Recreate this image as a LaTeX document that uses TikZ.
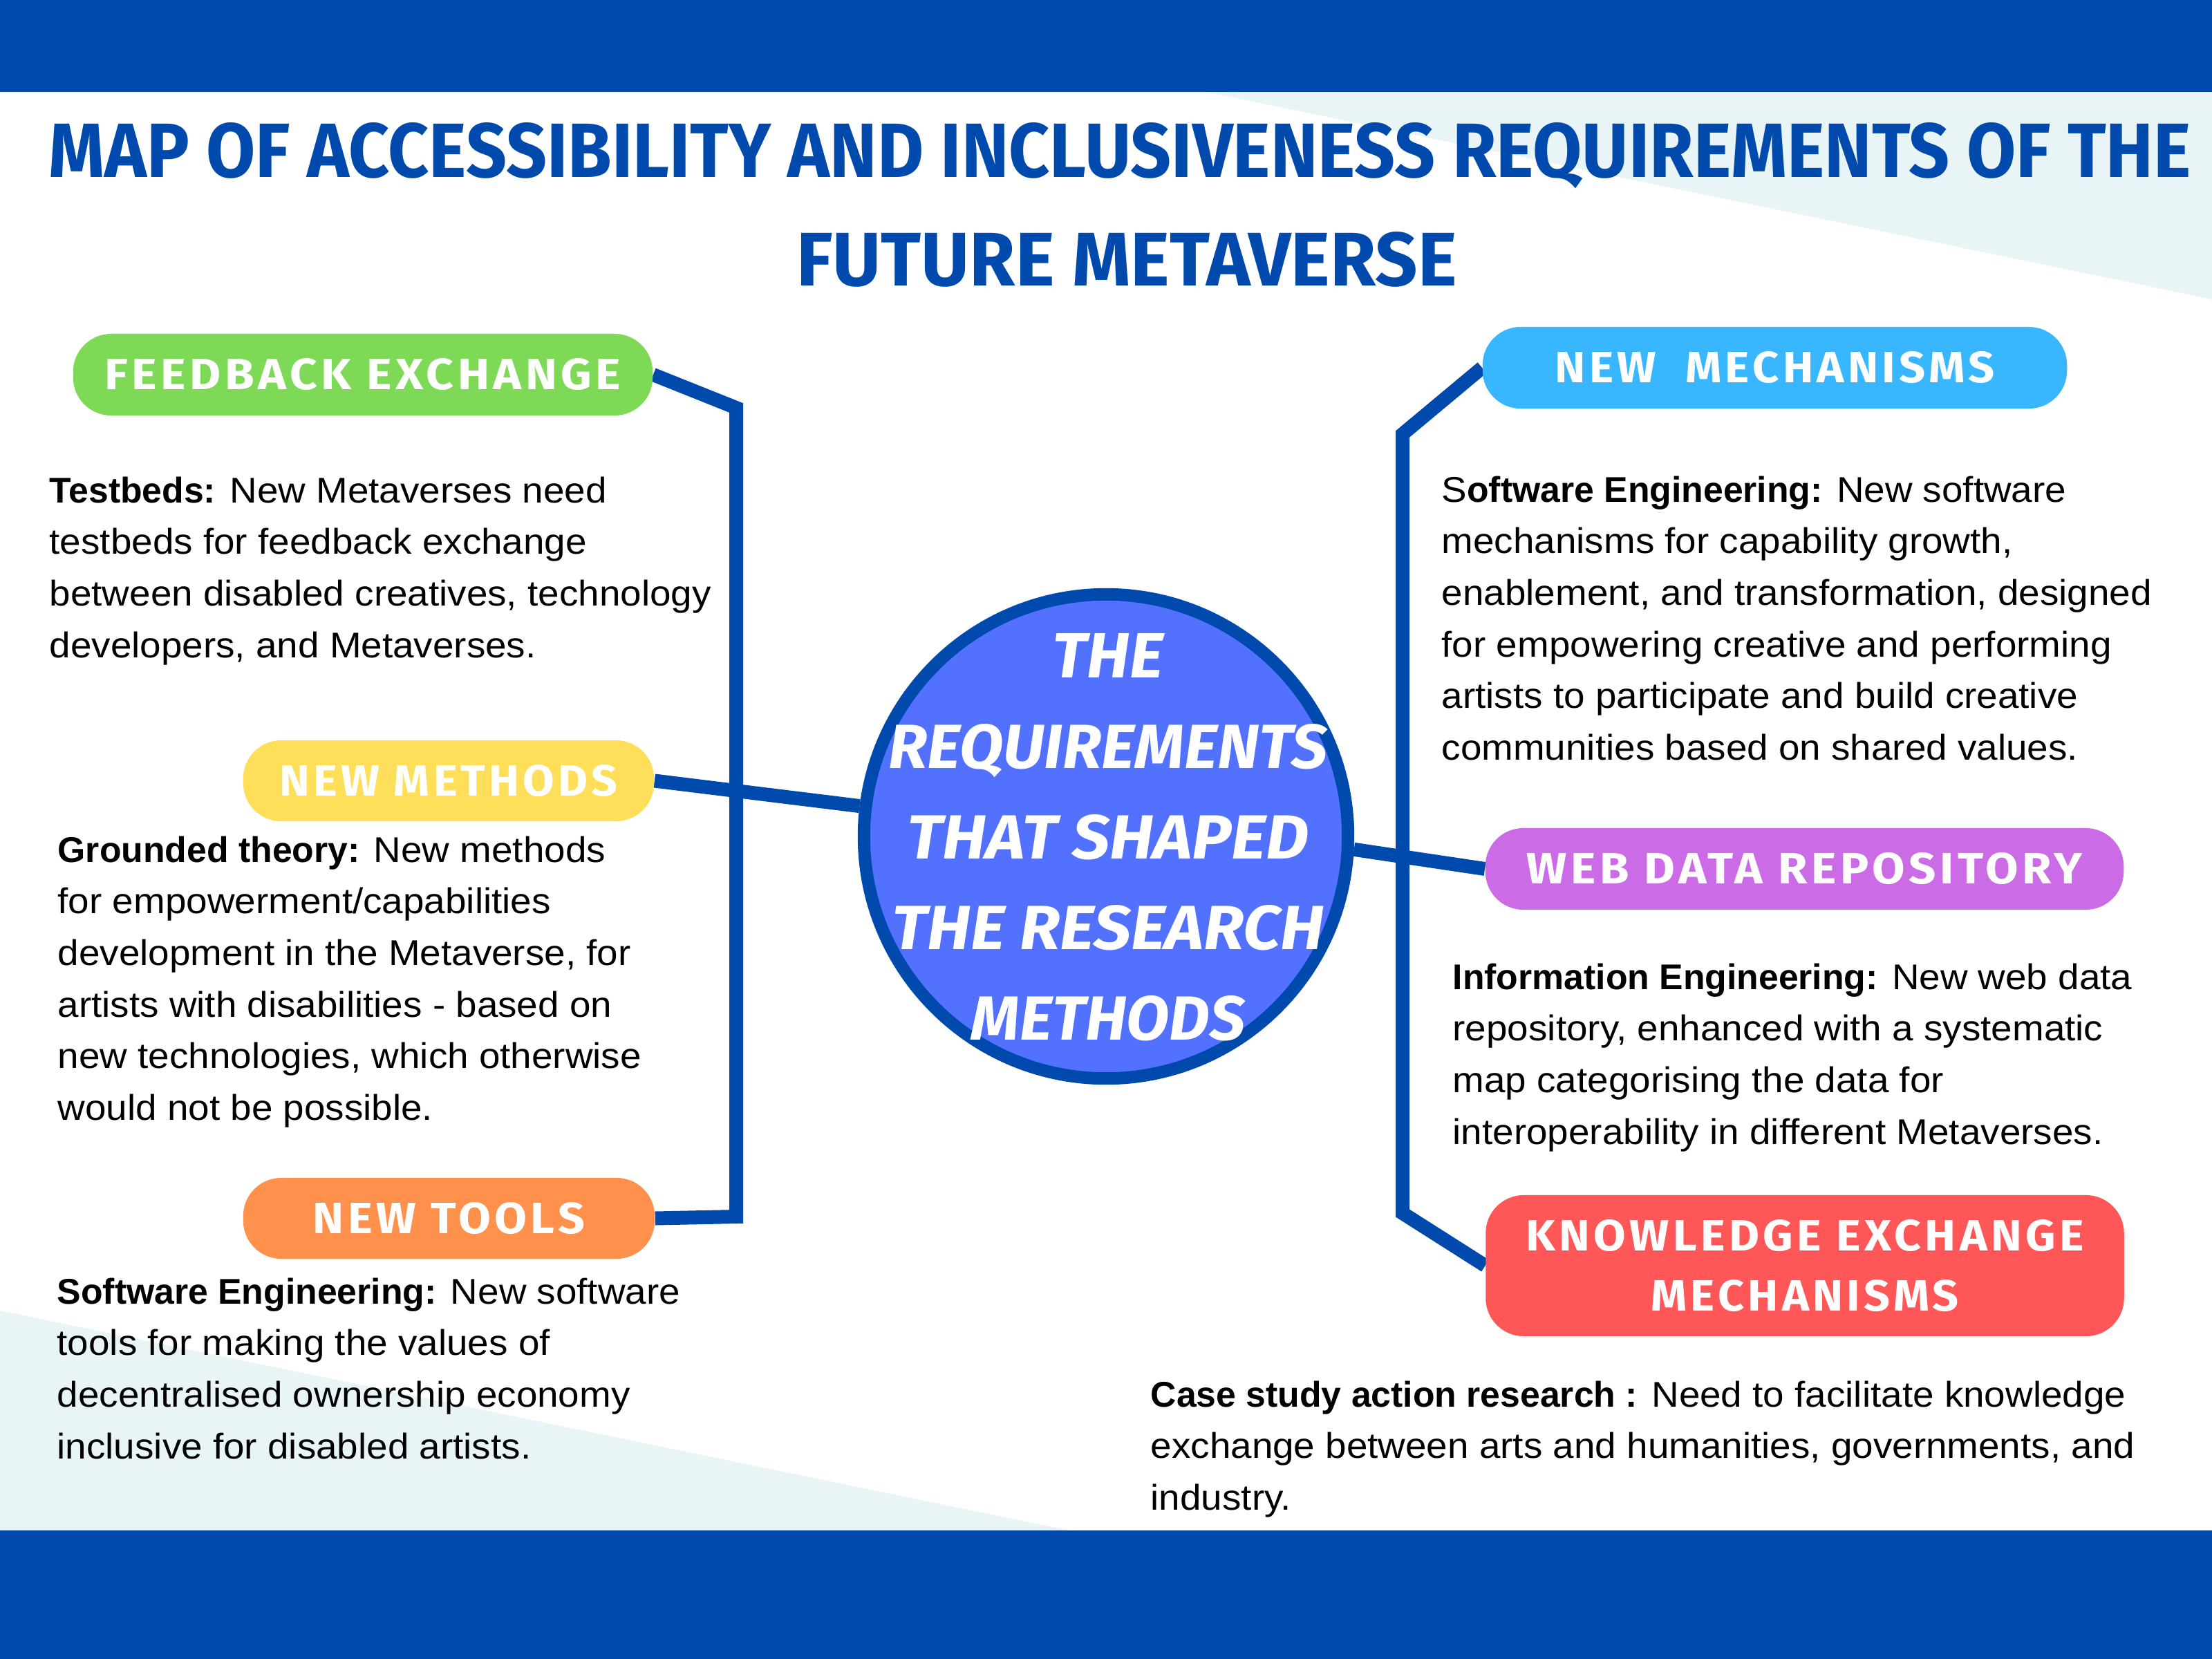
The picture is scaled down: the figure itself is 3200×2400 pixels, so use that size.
\documentclass[tikz,border=0pt]{standalone}
\usepackage{fontspec}
\usepackage{graphicx}
\setmainfont{Liberation Sans}
\newfontfamily\bodyfont[UprightFeatures={FakeStretch=1.06}]{Liberation Sans}
\newfontfamily\pillfont[LetterSpace=8]{Fira Sans}
\newfontfamily\titlefont{Fira Sans}
\newfontfamily\circfont{Fira Sans}
\definecolor{mainblue}{HTML}{004AAD}
\definecolor{lightbg}{HTML}{E8F4F6}
\definecolor{pgreen}{HTML}{7ED957}
\definecolor{pyellow}{HTML}{FFDE59}
\definecolor{porange}{HTML}{FF914D}
\definecolor{pcyan}{HTML}{38B6FF}
\definecolor{ppurple}{HTML}{CB6CE6}
\definecolor{pred}{HTML}{FF5757}
\definecolor{circfill}{HTML}{5271FF}
\pgfdeclarelayer{bg}
\pgfsetlayers{bg,main}
\newcommand{\bodytext}[1]{\parbox[t]{16cm}{\bodyfont\fontsize{14.71pt}{0.747cm}\selectfont\raggedright #1}}
\newcommand{\pl}[2]{\resizebox{#1}{0.45cm}{\pillfont\bfseries #2}}
\newcommand{\cl}[2]{\resizebox{#1}{0.64cm}{\circfont\bfseries\itshape #2}}
\tikzset{
  pill/.style={rounded corners=0.55cm, inner sep=0pt, text=white},
  conn/.style={draw=mainblue, line width=0.2cm},
  body/.style={anchor=base west, inner sep=0pt, text=black},
  titletext/.style={anchor=base, inner sep=0pt, text=mainblue},
}
\begin{document}
\begin{tikzpicture}[x=0.01cm,y=-0.01cm]
\useasboundingbox (0,0) rectangle (3200,2400);
\begin{pgfonlayer}{bg}
\fill[white] (0,0) rectangle (3200,2400);
\fill[lightbg] (1745,133) -- (3200,133) -- (3200,433) -- cycle;
\fill[lightbg] (0,1896) -- (1551,2215) -- (0,2215) -- cycle;
\fill[mainblue] (0,0) rectangle (3200,133);
\fill[mainblue] (0,2214) rectangle (3200,2400);
\end{pgfonlayer}

% title
\node[titletext] (t1) at (1620,257) {\resizebox{30.98cm}{0.79cm}{\titlefont\bfseries MAP OF ACCESSIBILITY AND INCLUSIVENESS REQUIREMENTS OF THE}};
\node[titletext] (t2) at (1630,413) {\resizebox{9.55cm}{0.78cm}{\titlefont\bfseries FUTURE METAVERSE}};

% pills
\node[pill, fill=pgreen, minimum width=8.38cm, minimum height=1.18cm] (fb) at (525,542) {\pl{7.46cm}{FEEDBACK EXCHANGE}};
\node[pill, fill=pyellow, minimum width=5.94cm, minimum height=1.17cm] (nm) at (649,1129.5) {\pl{4.89cm}{NEW METHODS}};
\node[pill, fill=porange, minimum width=5.95cm, minimum height=1.17cm] (nt) at (649.5,1762.5) {\pl{3.93cm}{NEW TOOLS}};
\node[pill, fill=pcyan, minimum width=8.45cm, minimum height=1.18cm] (nmc) at (2567.5,532) {\pl{6.35cm}{NEW~~MECHANISMS}};
\node[pill, fill=ppurple, minimum width=9.23cm, minimum height=1.18cm] (wd) at (2610.5,1257) {\pl{8.03cm}{WEB DATA REPOSITORY}};
\node[pill, fill=pred, minimum width=9.23cm, minimum height=2.04cm, align=center, font={\fontsize{10pt}{0.87cm}\selectfont}] (ke) at (2611,1831) {\pl{8.07cm}{KNOWLEDGE EXCHANGE}\\\pl{4.45cm}{MECHANISMS}};

% central circle
\node[circle, draw=mainblue, line width=0.18cm, fill=circfill, minimum size=7cm, inner sep=0pt] (c) at (1600,1210) {};
\node[inner sep=0pt, text=white, align=center, font={\fontsize{20pt}{1.31cm}\selectfont}] (ct) at (1603,1211)
  {\cl{1.60cm}{THE}\\\cl{6.35cm}{REQUIREMENTS}\\\cl{5.81cm}{THAT SHAPED}\\\cl{6.25cm}{THE RESEARCH}\\\cl{3.96cm}{METHODS}};

% connectors
\coordinate (lt) at (1065,590);
\coordinate (lb) at (1065,1760);
\coordinate (rt) at (2029,628);
\coordinate (rb) at (2029,1755);
\begin{pgfonlayer}{bg}
\draw[conn] (fb.east) -- (lt) -- (lb) -- (nt.east);
\draw[conn] (nm.east) -- (c);
\draw[conn] (nmc.west) -- (rt) -- (rb) -- (ke.west);
\draw[conn] (c.-3) -- (wd.west);
\end{pgfonlayer}

% body texts
\node[body] (tb) at (71,727) {\bodytext{\textbf{Testbeds:} New Metaverses need\\testbeds for feedback exchange\\between disabled creatives, technology\\developers, and Metaverses.}};
\node[body] (gt) at (83,1247) {\bodytext{\textbf{Grounded theory:} New methods\\for empowerment/capabilities\\development in the Metaverse, for\\artists with disabilities - based on\\new technologies, which otherwise\\would not be possible.}};
\node[body] (se1) at (82,1886) {\bodytext{\textbf{Software Engineering:} New software\\tools for making the values of\\decentralised ownership economy\\inclusive for disabled artists.}};
\node[body] (se2) at (2085,726) {\bodytext{S\textbf{oftware Engineering:} New software\\mechanisms for capability growth,\\enablement, and transformation, designed\\for empowering creative and performing\\artists to participate and build creative\\communities based on shared values.}};
\node[body] (ie) at (2101,1431) {\bodytext{\textbf{Information Engineering:} New web data\\repository, enhanced with a systematic\\map categorising the data for\\interoperability in different Metaverses.}};
\node[body] (cs) at (1664,2035) {\bodytext{\textbf{Case study action research :} Need to facilitate knowledge\\exchange between arts and humanities, governments, and\\industry.}};
\end{tikzpicture}
\end{document}
